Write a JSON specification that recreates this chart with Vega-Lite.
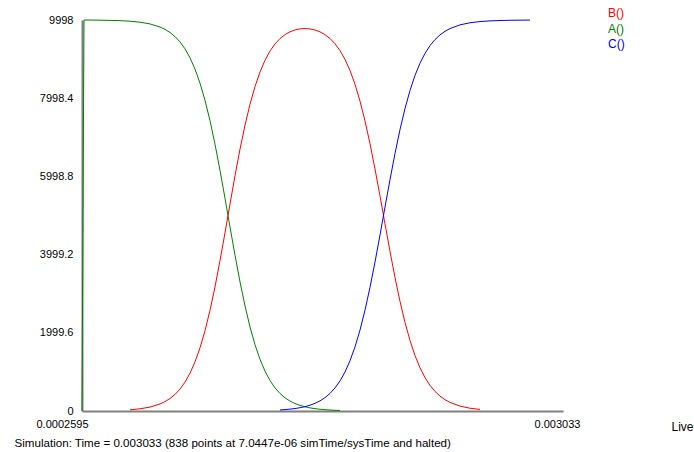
{
  "$schema": "https://vega.github.io/schema/vega-lite/v6.json",
  "autosize": "none",
  "width": 481,
  "height": 391,
  "padding": {"left": 82, "top": 20, "right": 131, "bottom": 41},
  "background": "#ffffff",
  "config": {"view": {"stroke": null}},
  "data": {"values": [
    {"s":"A()","t":0.0002595,"v":0},
    {"s":"A()","t":0.0002653,"v":5000},
    {"s":"A()","t":0.0002710,"v":9998},
    {"s":"A()","t":0.0003056,"v":9997},
    {"s":"A()","t":0.0003633,"v":9993},
    {"s":"A()","t":0.0004210,"v":9988},
    {"s":"A()","t":0.0004786,"v":9981},
    {"s":"A()","t":0.0005363,"v":9967},
    {"s":"A()","t":0.0005939,"v":9942},
    {"s":"A()","t":0.0006516,"v":9898},
    {"s":"A()","t":0.0007093,"v":9818},
    {"s":"A()","t":0.0007381,"v":9758},
    {"s":"A()","t":0.0007669,"v":9679},
    {"s":"A()","t":0.0007957,"v":9574},
    {"s":"A()","t":0.0008246,"v":9438},
    {"s":"A()","t":0.0008534,"v":9260},
    {"s":"A()","t":0.0008822,"v":9032},
    {"s":"A()","t":0.0009111,"v":8743},
    {"s":"A()","t":0.0009399,"v":8383},
    {"s":"A()","t":0.0009687,"v":7945},
    {"s":"A()","t":0.0009976,"v":7423},
    {"s":"A()","t":0.0010264,"v":6823},
    {"s":"A()","t":0.0010552,"v":6154},
    {"s":"A()","t":0.0010841,"v":5439},
    {"s":"A()","t":0.0011129,"v":4705},
    {"s":"A()","t":0.0011417,"v":3984},
    {"s":"A()","t":0.0011705,"v":3304},
    {"s":"A()","t":0.0011994,"v":2689},
    {"s":"A()","t":0.0012282,"v":2151},
    {"s":"A()","t":0.0012570,"v":1696},
    {"s":"A()","t":0.0012859,"v":1321},
    {"s":"A()","t":0.0013147,"v":1019},
    {"s":"A()","t":0.0013435,"v":779},
    {"s":"A()","t":0.0013724,"v":592},
    {"s":"A()","t":0.0014012,"v":448},
    {"s":"A()","t":0.0014300,"v":338},
    {"s":"A()","t":0.0014589,"v":254},
    {"s":"A()","t":0.0014877,"v":191},
    {"s":"A()","t":0.0015165,"v":143},
    {"s":"A()","t":0.0015453,"v":107},
    {"s":"A()","t":0.0015742,"v":80},
    {"s":"A()","t":0.0016030,"v":60},
    {"s":"A()","t":0.0016318,"v":44},
    {"s":"A()","t":0.0016607,"v":33},
    {"s":"A()","t":0.0016895,"v":25},
    {"s":"A()","t":0.0017183,"v":18},
    {"s":"A()","t":0.0017472,"v":14},

    {"s":"B()","t":0.0005363,"v":31},
    {"s":"B()","t":0.0005939,"v":56},
    {"s":"B()","t":0.0006516,"v":100},
    {"s":"B()","t":0.0007093,"v":180},
    {"s":"B()","t":0.0007381,"v":240},
    {"s":"B()","t":0.0007669,"v":319},
    {"s":"B()","t":0.0007957,"v":424},
    {"s":"B()","t":0.0008246,"v":560},
    {"s":"B()","t":0.0008534,"v":738},
    {"s":"B()","t":0.0008822,"v":966},
    {"s":"B()","t":0.0009111,"v":1255},
    {"s":"B()","t":0.0009399,"v":1615},
    {"s":"B()","t":0.0009687,"v":2053},
    {"s":"B()","t":0.0009976,"v":2575},
    {"s":"B()","t":0.0010264,"v":3175},
    {"s":"B()","t":0.0010552,"v":3844},
    {"s":"B()","t":0.0010841,"v":4559},
    {"s":"B()","t":0.0011129,"v":5293},
    {"s":"B()","t":0.0011417,"v":6014},
    {"s":"B()","t":0.0011705,"v":6694},
    {"s":"B()","t":0.0011994,"v":7309},
    {"s":"B()","t":0.0012282,"v":7842},
    {"s":"B()","t":0.0012570,"v":8295},
    {"s":"B()","t":0.0012859,"v":8668},
    {"s":"B()","t":0.0013147,"v":8968},
    {"s":"B()","t":0.0013435,"v":9204},
    {"s":"B()","t":0.0013724,"v":9386},
    {"s":"B()","t":0.0014012,"v":9523},
    {"s":"B()","t":0.0014300,"v":9624},
    {"s":"B()","t":0.0014589,"v":9696},
    {"s":"B()","t":0.0014877,"v":9744},
    {"s":"B()","t":0.0015165,"v":9771},
    {"s":"B()","t":0.0015453,"v":9780},
    {"s":"B()","t":0.0015742,"v":9770},
    {"s":"B()","t":0.0016030,"v":9742},
    {"s":"B()","t":0.0016318,"v":9695},
    {"s":"B()","t":0.0016607,"v":9624},
    {"s":"B()","t":0.0016895,"v":9524},
    {"s":"B()","t":0.0017183,"v":9391},
    {"s":"B()","t":0.0017472,"v":9216},
    {"s":"B()","t":0.0017760,"v":8991},
    {"s":"B()","t":0.0018048,"v":8706},
    {"s":"B()","t":0.0018337,"v":8353},
    {"s":"B()","t":0.0018625,"v":7924},
    {"s":"B()","t":0.0018913,"v":7417},
    {"s":"B()","t":0.0019201,"v":6835},
    {"s":"B()","t":0.0019490,"v":6188},
    {"s":"B()","t":0.0019778,"v":5496},
    {"s":"B()","t":0.0020066,"v":4785},
    {"s":"B()","t":0.0020355,"v":4081},
    {"s":"B()","t":0.0020643,"v":3413},
    {"s":"B()","t":0.0020931,"v":2803},
    {"s":"B()","t":0.0021220,"v":2264},
    {"s":"B()","t":0.0021508,"v":1803},
    {"s":"B()","t":0.0021796,"v":1418},
    {"s":"B()","t":0.0022084,"v":1105},
    {"s":"B()","t":0.0022373,"v":854},
    {"s":"B()","t":0.0022661,"v":656},
    {"s":"B()","t":0.0022949,"v":501},
    {"s":"B()","t":0.0023238,"v":381},
    {"s":"B()","t":0.0023526,"v":289},
    {"s":"B()","t":0.0023814,"v":219},
    {"s":"B()","t":0.0024391,"v":125},
    {"s":"B()","t":0.0024968,"v":71},
    {"s":"B()","t":0.0025544,"v":40},

    {"s":"C()","t":0.0014012,"v":27},
    {"s":"C()","t":0.0014300,"v":36},
    {"s":"C()","t":0.0014589,"v":48},
    {"s":"C()","t":0.0014877,"v":63},
    {"s":"C()","t":0.0015165,"v":84},
    {"s":"C()","t":0.0015453,"v":111},
    {"s":"C()","t":0.0015742,"v":148},
    {"s":"C()","t":0.0016030,"v":196},
    {"s":"C()","t":0.0016318,"v":259},
    {"s":"C()","t":0.0016607,"v":341},
    {"s":"C()","t":0.0016895,"v":449},
    {"s":"C()","t":0.0017183,"v":589},
    {"s":"C()","t":0.0017472,"v":768},
    {"s":"C()","t":0.0017760,"v":997},
    {"s":"C()","t":0.0018048,"v":1285},
    {"s":"C()","t":0.0018337,"v":1640},
    {"s":"C()","t":0.0018625,"v":2070},
    {"s":"C()","t":0.0018913,"v":2578},
    {"s":"C()","t":0.0019201,"v":3161},
    {"s":"C()","t":0.0019490,"v":3809},
    {"s":"C()","t":0.0019778,"v":4501},
    {"s":"C()","t":0.0020066,"v":5213},
    {"s":"C()","t":0.0020355,"v":5917},
    {"s":"C()","t":0.0020643,"v":6585},
    {"s":"C()","t":0.0020931,"v":7195},
    {"s":"C()","t":0.0021220,"v":7734},
    {"s":"C()","t":0.0021508,"v":8195},
    {"s":"C()","t":0.0021796,"v":8580},
    {"s":"C()","t":0.0022084,"v":8893},
    {"s":"C()","t":0.0022373,"v":9144},
    {"s":"C()","t":0.0022661,"v":9342},
    {"s":"C()","t":0.0022949,"v":9497},
    {"s":"C()","t":0.0023238,"v":9617},
    {"s":"C()","t":0.0023526,"v":9709},
    {"s":"C()","t":0.0023814,"v":9779},
    {"s":"C()","t":0.0024391,"v":9873},
    {"s":"C()","t":0.0024968,"v":9927},
    {"s":"C()","t":0.0025544,"v":9958},
    {"s":"C()","t":0.0026121,"v":9975},
    {"s":"C()","t":0.0026697,"v":9985},
    {"s":"C()","t":0.0027274,"v":9991},
    {"s":"C()","t":0.0027851,"v":9994},
    {"s":"C()","t":0.0028427,"v":9996}
  ]},
  "mark": {"type": "line", "strokeWidth": 1, "interpolate": "linear"},
  "encoding": {
    "x": {
      "field": "t", "type": "quantitative",
      "scale": {"domain": [0.0002595, 0.003033], "nice": false, "zero": false},
      "axis": {
        "values": [0.0002595, 0.003033],
        "labelExpr": "'' + datum.value",
        "labelFlush": false,
        "labelAlign": "center",
        "labelOffset": {"expr": "datum.value < 0.001 ? -20 : -6"},
        "labelPadding": 7,
        "labelBound": false,
        "labelOverlap": false,
        "ticks": false,
        "grid": false,
        "domainColor": "#808080",
        "domainWidth": 2,
        "labelFont": "Liberation Sans",
        "labelFontSize": 11,
        "labelColor": "#000000",
        "title": "Live",
        "titleX": 589,
        "titleY": 15,
        "titleAlign": "left",
        "titleBaseline": "middle",
        "titleFont": "Liberation Sans",
        "titleFontSize": 12,
        "titleFontWeight": "normal",
        "titleColor": "#000000"
      }
    },
    "y": {
      "field": "v", "type": "quantitative",
      "scale": {"domain": [0, 9998], "nice": false, "zero": true},
      "axis": {
        "values": [0, 1999.6, 3999.2, 5998.8, 7998.4, 9998],
        "labelExpr": "'' + datum.value",
        "ticks": false,
        "grid": false,
        "domainColor": "#808080",
        "domainWidth": 2,
        "labelPadding": 9,
        "labelFont": "Liberation Sans",
        "labelFontSize": 11,
        "labelColor": "#000000",
        "title": "Simulation: Time = 0.003033 (838 points at 7.0447e-06 simTime/sysTime and halted)",
        "titleAngle": 0,
        "titleX": -68,
        "titleY": 423,
        "titleAlign": "left",
        "titleBaseline": "middle",
        "titleFont": "Liberation Sans",
        "titleFontSize": 11.6,
        "titleFontWeight": "normal",
        "titleColor": "#000000"
      }
    },
    "color": {
      "field": "s", "type": "nominal",
      "scale": {"domain": ["B()", "A()", "C()"], "range": ["#ff0000", "#008000", "#0000ff"]},
      "legend": {
        "orient": "none",
        "legendX": 514,
        "legendY": -13,
        "title": null,
        "padding": 0,
        "symbolSize": 0,
        "symbolStrokeWidth": 0,
        "symbolOpacity": 0,
        "labelOffset": 0,
        "rowPadding": 3.5,
        "labelFont": "Liberation Sans",
        "labelFontSize": 12,
        "labelColor": {"expr": "datum.label === 'B()' ? '#ff0000' : datum.label === 'A()' ? '#008000' : '#0000ff'"}
      }
    }
  }
}
